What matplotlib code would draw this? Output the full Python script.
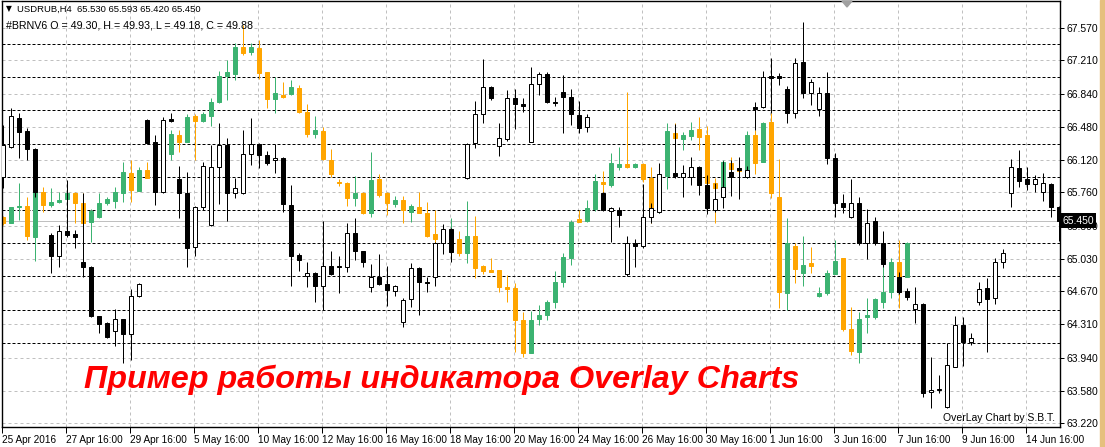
import numpy as np
import matplotlib
matplotlib.use("Agg")
import matplotlib.pyplot as plt
import matplotlib.transforms as mtransforms

plt.rcParams["font.family"] = ["Liberation Sans", "DejaVu Sans"]

nan = np.nan

# USDRUB H4 (black / white candles)
main_o = [65.93, 66.26, 66.58, 66.43, 66.24, nan, 65.29, 65.06, 65.34, 65.30,
          64.99, 64.94, 64.40, 64.32, 64.23, 64.37, 64.20, 64.62, 66.56, 66.31,
          65.76, 66.57, 65.91, 65.75, 65.16, 65.60, 65.40, 66.04, 66.28, 65.75,
          65.75, 66.18, 66.29, 66.17, 66.12, 66.14, 65.62, 65.07, 64.84, 64.87,
          64.73, 64.95, 64.95, 64.94, 65.31, 65.11, 64.72, 64.83, 64.75, 64.67,
          64.33, 64.59, 64.93, 64.77, 64.83, 65.20, 65.36, nan, 65.92, 66.30,
          66.62, 66.92, 66.27, 66.35, 66.80, 66.73, 66.31, 66.95, 67.06, 66.75,
          66.86, 66.81, 66.61, 66.48, nan, 65.75, 65.55, 65.57, 64.86, 65.20,
          65.17, 65.49, 65.54, nan, 65.97, 65.93, 65.93, 66.04, 65.84, 65.57,
          65.71, 65.98, 66.03, 65.93, 66.70, 66.70, 67.04, 67.04, 66.90, 66.63,
          67.19, 66.85, 66.68, 66.85, 66.14, 65.64, 65.49, 65.64, 65.20, 65.44,
          65.20, nan, 64.83, 64.67, 64.48, 64.53, 63.56, 63.59, 63.40, 63.84,
          64.30, 64.11, 64.55, 64.71, 64.60, 64.99, 65.75, 66.03, 65.91, 65.85,
          65.76, 65.85, 65.60]
main_h = [66.50, 66.69, 66.63, 66.47, 66.25, nan, 65.31, 65.40, 65.90, 65.35,
          65.75, 64.95, 64.40, 64.33, 64.48, 64.37, 64.70, 64.76, 66.57, 66.39,
          66.59, 66.63, 66.05, 65.98, 65.61, 66.09, 66.28, 66.52, 66.36, 65.92,
          66.44, 66.58, 66.30, 66.21, 66.29, 66.15, 65.84, 65.09, 64.99, 64.88,
          65.44, 65.11, 65.06, 65.42, 65.48, 65.12, 64.97, 65.08, 64.95, 64.74,
          64.60, 64.98, 64.94, 64.83, 65.21, 65.41, 65.37, nan, 66.30, 66.76,
          67.23, 66.93, 66.52, 66.89, 66.90, 66.80, 67.14, 67.08, 67.08, 66.81,
          67.05, 66.90, 66.76, 66.62, nan, 65.76, 65.60, 65.60, 65.28, 65.25,
          65.85, 65.64, 66.08, nan, 66.51, 66.06, 66.15, 66.05, 65.95, 65.86,
          66.10, 66.12, 66.15, 66.05, 66.75, 67.09, 67.24, 67.07, 66.93, 67.24,
          67.63, 67.01, 66.92, 67.08, 66.19, 65.74, 65.91, 65.71, 65.58, 65.49,
          65.33, nan, 64.88, 64.71, 64.72, 64.54, 63.95, 63.75, 64.10, 64.40,
          64.39, 64.21, 64.77, 64.82, 65.04, 65.14, 66.13, 66.23, 66.04, 65.95,
          65.97, 65.86, 65.61]
main_l = [65.81, 66.25, 66.14, 66.12, 65.71, nan, 64.87, 64.94, 65.27, 65.15,
          64.83, 64.39, 64.21, 64.16, 64.07, 63.88, 63.92, 64.61, 66.29, 65.62,
          65.75, 66.53, 65.48, 64.94, 65.06, 65.57, 65.39, 65.63, 65.44, 65.70,
          65.74, 66.06, 66.03, 66.06, 65.97, 65.54, 64.73, 64.89, 64.72, 64.55,
          64.47, 64.85, 64.65, 64.88, 65.02, 64.94, 64.66, 64.74, 64.51, 64.62,
          64.28, 64.50, 64.41, 64.66, 64.73, 65.08, 64.99, nan, 65.91, 66.25,
          66.52, 66.78, 66.16, 66.32, 66.46, 66.64, 66.31, 66.83, 66.74, 66.71,
          66.41, 66.50, 66.41, 66.42, nan, 65.55, 65.21, 65.38, 64.84, 64.94,
          65.15, 65.42, 65.53, nan, 65.92, 65.71, 65.84, 65.73, 65.52, 65.54,
          65.59, 65.72, 65.69, 65.92, 66.45, 66.69, 66.63, 66.94, 66.52, 66.58,
          66.80, 66.72, 66.60, 66.07, 65.49, 65.53, 65.48, 65.18, 65.03, 65.18,
          64.94, nan, 64.64, 64.58, 64.32, 63.51, 63.39, 63.55, 63.39, 63.84,
          63.85, 64.08, 64.52, 64.00, 64.53, 64.93, 65.60, 65.82, 65.79, 65.76,
          65.66, 65.49, 65.22]
main_c = [66.28, 66.60, 66.42, 66.24, 65.76, nan, 65.06, 65.33, 65.29, 65.27,
          64.94, 64.40, 64.31, 64.17, 64.37, 64.20, 64.62, 64.75, 66.30, 65.76,
          66.56, 66.54, 65.75, 65.15, 65.60, 66.05, 66.04, 66.28, 65.75, 65.81,
          66.18, 66.29, 66.17, 66.08, 66.14, 65.63, 65.06, 65.02, 64.87, 64.73,
          64.95, 64.86, 64.94, 65.31, 65.12, 64.99, 64.83, 64.75, 64.69, 64.73,
          64.58, 64.93, 64.77, 64.76, 65.20, 65.36, 65.10, nan, 66.29, 66.62,
          66.92, 66.80, 66.36, 66.80, 66.73, 66.71, 66.95, 67.06, 66.75, 66.74,
          66.81, 66.62, 66.47, 66.59, nan, 65.57, 65.59, 65.51, 65.20, 65.17,
          65.49, 65.59, 65.96, nan, 65.94, 65.97, 66.04, 65.84, 65.59, 65.69,
          65.82, 65.93, 66.00, 66.00, 66.68, 67.03, 67.02, 67.02, 66.63, 67.18,
          66.85, 66.97, 66.85, 66.14, 65.64, 65.60, 65.64, 65.20, 65.42, 65.20,
          64.97, nan, 64.66, 64.61, 64.53, 63.55, 63.59, 63.60, 63.86, 64.30,
          64.11, 64.16, 64.70, 64.59, 64.99, 65.09, 66.04, 65.88, 65.85, 65.91,
          65.86, 65.60, 65.45]

# #BRNV6 overlay, already mapped onto the USDRUB price scale
ov_o = [65.49, 65.42, 65.60, 65.61, 65.27, 65.76, 65.62, 65.65, 65.69, 65.75,
        65.64, 65.43, 65.49, 65.64, 65.66, 65.75, 65.97, 65.77, 66.01, 65.93,
        65.93, 66.18, 66.39, 66.31, 66.60, 66.54, 66.60, 66.75, 67.04, 67.06,
        67.36, 67.30, 67.35, 67.08, 66.79, 66.83, 66.84, 66.91, 66.64, 66.40,
        66.43, 66.12, 65.87, 65.86, 65.70, 65.75, 65.53, 65.91, 65.75, 65.63,
        65.68, 65.54, 65.60, 65.53, 65.30, 65.25, 65.22, 65.25, 65.09, 65.28,
        64.95, 64.91, 64.91, 64.72, 64.71, 64.36, 63.99, 64.37, 64.41, 64.55,
        64.77, 65.04, 65.47, 65.44, 65.58, 65.87, 65.84, 66.04, 66.07, 66.04,
        66.07, 65.92, 65.59, 65.94, 66.41, 66.35, 66.38, 66.46, 66.39, 65.86,
        65.82, 66.08, 66.03, 66.00, 66.39, 66.09, 66.53, 65.71, 64.65, 65.17,
        64.87, 64.98, 64.62, 64.65, 64.86, 65.04, 64.26, 64.00, 64.39, 64.39,
        64.55, 64.66, 64.99, 64.83]
ov_h = [65.50, 65.60, 65.86, 65.71, 65.84, 65.82, 65.81, 65.76, 65.88, 65.76,
        65.75, 65.58, 65.75, 65.71, 65.82, 66.09, 66.12, 66.04, 66.09, 65.95,
        66.23, 66.44, 66.44, 66.62, 66.62, 66.64, 66.80, 67.09, 67.22, 67.40,
        67.60, 67.40, 67.44, 67.08, 67.03, 66.97, 67.00, 66.94, 66.73, 66.60,
        66.48, 66.24, 65.91, 65.87, 65.94, 65.76, 66.20, 65.96, 65.76, 65.72,
        65.72, 65.63, 65.76, 65.65, 65.57, 65.35, 65.48, 65.33, 65.66, 65.50,
        64.96, 65.04, 64.91, 64.85, 64.76, 64.44, 64.45, 64.52, 64.58, 64.90,
        65.09, 65.46, 65.57, 65.68, 65.96, 65.99, 66.19, 66.26, 66.86, 66.08,
        66.08, 66.04, 65.96, 66.52, 66.52, 66.42, 66.53, 66.59, 66.49, 65.92,
        66.12, 66.15, 66.04, 66.43, 66.45, 66.53, 66.63, 66.13, 65.48, 65.20,
        65.28, 65.16, 64.72, 64.91, 65.24, 65.04, 64.50, 64.44, 64.60, 64.60,
        65.04, 65.04, 65.24, 65.21]
ov_l = [65.40, 65.42, 65.46, 65.24, 65.00, 65.54, 65.60, 65.64, 65.60, 65.42,
        65.20, 65.21, 65.48, 65.62, 65.59, 65.65, 65.65, 65.77, 65.92, 65.82,
        65.93, 66.12, 66.20, 66.31, 66.12, 66.53, 66.49, 66.74, 66.78, 67.00,
        67.27, 67.27, 67.01, 66.69, 66.63, 66.80, 66.83, 66.63, 66.37, 66.36,
        66.12, 65.93, 65.83, 65.61, 65.61, 65.52, 65.49, 65.71, 65.51, 65.60,
        65.42, 65.43, 65.53, 65.27, 65.08, 65.09, 65.05, 65.06, 64.98, 64.82,
        64.86, 64.88, 64.66, 64.55, 64.00, 63.95, 63.99, 64.30, 64.36, 64.49,
        64.72, 64.96, 65.43, 65.43, 65.55, 65.69, 65.82, 66.00, 66.03, 66.03,
        65.87, 65.42, 65.53, 65.80, 66.34, 66.22, 66.34, 66.22, 65.75, 65.42,
        65.79, 65.98, 65.86, 65.92, 65.96, 66.09, 65.70, 64.49, 64.47, 64.76,
        64.73, 64.87, 64.61, 64.63, 64.86, 64.24, 63.97, 63.88, 64.21, 64.37,
        64.49, 64.60, 64.49, 64.83]
ov_c = [65.42, 65.60, 65.61, 65.28, 65.76, 65.62, 65.65, 65.68, 65.75, 65.64,
        65.42, 65.55, 65.64, 65.69, 65.76, 65.98, 65.79, 66.01, 65.92, 65.95,
        66.18, 66.40, 66.31, 66.59, 66.54, 66.62, 66.75, 67.04, 67.08, 67.36,
        67.29, 67.36, 67.07, 66.79, 66.85, 66.81, 66.92, 66.64, 66.40, 66.45,
        66.13, 65.96, 65.86, 65.70, 65.75, 65.53, 65.90, 65.73, 65.64, 65.68,
        65.57, 65.61, 65.53, 65.28, 65.25, 65.22, 65.27, 65.09, 65.28, 64.93,
        64.89, 64.88, 64.72, 64.70, 64.36, 63.99, 64.36, 64.41, 64.55, 64.77,
        65.05, 65.43, 65.43, 65.59, 65.88, 65.85, 66.08, 66.07, 66.04, 66.07,
        65.91, 65.59, 65.95, 66.43, 66.36, 66.39, 66.44, 66.37, 65.86, 65.81,
        66.09, 66.02, 65.99, 66.39, 66.08, 66.52, 65.75, 64.66, 65.20, 64.92,
        64.96, 64.95, 64.65, 64.87, 65.00, 64.26, 64.01, 64.37, 64.41, 64.59,
        64.66, 64.99, 64.66, 65.20]

price_ticks = [67.570, 67.210, 66.840, 66.480, 66.120, 65.760, 65.390,
               65.030, 64.670, 64.310, 63.940, 63.580, 63.220]
overlay_levels = [67.39, 67.03, 66.66, 66.29, 65.93, 65.565, 65.20, 64.84, 64.47, 64.10]
date_labels = ["25 Apr 2016", "27 Apr 16:00", "29 Apr 16:00", "5 May 16:00",
               "10 May 16:00", "12 May 16:00", "16 May 16:00", "18 May 16:00",
               "20 May 16:00", "24 May 16:00", "26 May 16:00", "30 May 16:00",
               "1 Jun 16:00", "3 Jun 16:00", "7 Jun 16:00", "9 Jun 16:00",
               "14 Jun 16:00"]
bars_per_label = 8
last_price = 65.450

W, H = 1105, 447
fig = plt.figure(figsize=(W / 100, H / 100), dpi=100)
fig.patch.set_facecolor("white")
ax = fig.add_axes([2 / W, 1 - 427 / H, 1058 / W, 426 / H])
ax.set_facecolor("white")
ax.set_xlim(-0.09, 132.16)
ax.set_ylim(63.179, 67.864)

px = 0.72  # one pixel in points

# grid
for p in price_ticks:
    ax.axhline(p, color="#c0c0c0", lw=px, ls=(0, (3, 3)), zorder=0)
xt = np.arange(len(date_labels)) * bars_per_label
for x in xt:
    ax.axvline(x - 0.09, color="#c0c0c0", lw=px, ls=(0, (3, 3)), zorder=0)
for p in overlay_levels:
    ax.axhline(p, color="black", lw=px, ls=(0, (3, 2)), zorder=0.5)
ax.axhline(last_price, color="#c0c0c0", lw=px, zorder=0.6)


def candles(o, h, l, c, up_face, dn_face, edge_up, edge_dn, wick_up, wick_dn, z):
    o, h, l, c = (np.array(a, dtype=float) for a in (o, h, l, c))
    x = np.arange(len(o))
    ok = ~np.isnan(o)
    up = ok & (c >= o)
    dn = ok & (c < o)
    for m, wc in ((up, wick_up), (dn, wick_dn)):
        ax.vlines(x[m], l[m], h[m], color=wc, lw=px, zorder=z)
    bottom = np.minimum(o, c)
    height = np.maximum(np.abs(c - o), 0.012)
    ax.bar(x[up], height[up], bottom=bottom[up], width=0.55, color=up_face,
           edgecolor=edge_up, linewidth=px, zorder=z + 0.1)
    ax.bar(x[dn], height[dn], bottom=bottom[dn], width=0.55, color=dn_face,
           edgecolor=edge_dn, linewidth=px, zorder=z + 0.1)


green, orange = "#3cb371", "#ffa500"
candles(ov_o, ov_h, ov_l, ov_c, green, orange, green, orange, green, orange, 2)
candles(main_o, main_h, main_l, main_c, "white", "black", "black", "black",
        "black", "black", 3)

# axes styling
for s in ax.spines.values():
    s.set_color("black")
    s.set_linewidth(1)
ax.yaxis.tick_right()
ax.set_yticks(price_ticks)
ax.set_yticklabels([f"{p:.3f}" for p in price_ticks])
ax.set_xticks(xt - 0.09)
ax.set_xticklabels(date_labels, ha="left")
ax.tick_params(axis="y", direction="out", length=3, width=px, pad=2,
               labelsize=7.5, colors="black")
ax.tick_params(axis="x", direction="out", length=4, width=px, pad=2,
               labelsize=7.2, colors="black")

# current price box
tr = mtransforms.blended_transform_factory(ax.transAxes, ax.transData)
ax.text(1.002, last_price, f"{last_price:.3f}", transform=tr, ha="left",
        va="center", fontsize=7.5, color="white", zorder=10, clip_on=False,
        bbox=dict(facecolor="black", edgecolor="none", pad=1.5))

# header lines
fig.text(6 / W, 1 - 9 / H, "\u25bc", fontsize=5.5, va="center", ha="left",
         family=["DejaVu Sans"])
fig.text(17 / W, 1 - 9 / H, "USDRUB,H4  65.530 65.593 65.420 65.450",
         fontsize=6.8, va="center", ha="left")
fig.text(6 / W, 1 - 25 / H, "#BRNV6 O = 49.30, H = 49.93, L = 49.18, C = 49.88",
         fontsize=7.7, va="center", ha="left")

# title
fig.text(84 / W, 1 - 388 / H, "Пример работы индикатора Overlay Charts",
         fontsize=23.3, fontweight="bold", fontstyle="italic", color="#ff0000",
         va="baseline", ha="left")

fig.text(1055 / W, 1 - 418 / H, "OverLay Chart by S.B.T.", fontsize=7.5,
         va="center", ha="right")

# chart shift marker and right strip
fig.patches.append(plt.Polygon([[842 / W, 1 - 1 / H], [852 / W, 1 - 1 / H],
                                [847 / W, 1 - 7 / H]], closed=True,
                               transform=fig.transFigure, color="#a0a0a0"))
fig.patches.append(plt.Rectangle((1100 / W, 0), 5 / W, 1,
                                 transform=fig.transFigure, color="#e6c07e"))

fig.savefig("out.png", dpi=100)
